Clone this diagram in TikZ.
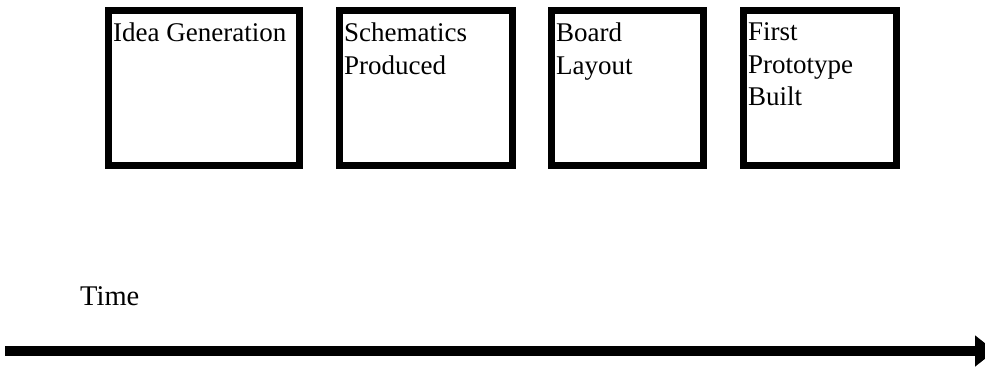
\documentclass[tikz,border=0pt]{standalone}
\usepackage{fontspec}
\setmainfont{Liberation Serif}
\usetikzlibrary{arrows.meta}
\begin{document}
\begin{tikzpicture}[x=1pt,y=1pt,
  stage/.style={draw=black, line width=7pt, rectangle, inner sep=0pt, outer sep=0pt, fill=white},
  stagetext/.style={anchor=north west, inner sep=0pt, align=left, font=\fontsize{27}{32.5}\selectfont},
  timeline/.style={line width=9.5pt, -{Triangle[length=20pt,width=30pt]}}
]
\useasboundingbox (0,0) rectangle (985,-375);

% stage boxes
\node[stage, minimum width=191pt, minimum height=155pt] (b1) at (204,-88.3) {};
\node[stage, minimum width=173pt, minimum height=155pt] (b2) at (426,-88.3) {};
\node[stage, minimum width=152pt, minimum height=155pt] (b3) at (627.5,-88.3) {};
\node[stage, minimum width=153pt, minimum height=155pt] (b4) at (820,-88.3) {};

% stage labels
\node[stagetext] (t1) at ([shift={(4.5pt,-12pt)}]b1.north west) {Idea Generation};
\node[stagetext] (t2) at ([shift={(4.5pt,-12pt)}]b2.north west) {Schematics\\Produced};
\node[stagetext] (t3) at ([shift={(4.5pt,-12pt)}]b3.north west) {Board\\Layout};
\node[stagetext] (t4) at ([shift={(4.5pt,-12pt)}]b4.north west) {First\\Prototype\\Built};

% time axis
\node[anchor=base west, inner sep=0pt, font=\fontsize{28.5}{32}\selectfont] (time) at (80,-305) {Time};
\coordinate (tstart) at (5,-351);
\coordinate (tend) at (995,-351);
\draw[timeline] (tstart) -- (tend);
\end{tikzpicture}
\end{document}
